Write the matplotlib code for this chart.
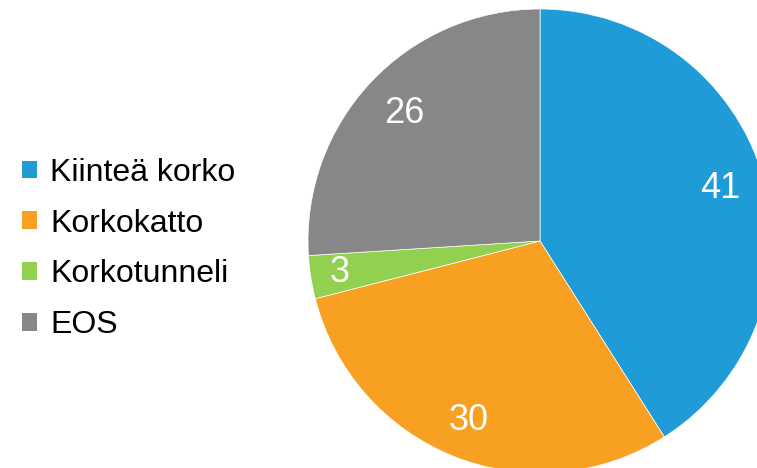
import matplotlib
matplotlib.use("Agg")
import matplotlib.pyplot as plt
from matplotlib.patches import Patch
import numpy as np

plt.rcParams['font.family'] = ['Liberation Sans', 'DejaVu Sans']

categories = ["Kiinteä korko", "Korkokatto", "Korkotunneli", "EOS"]
values = [41, 30, 3, 26]
colors = ["#1F9BD7", "#F7A021", "#92D050", "#878787"]
label_radius = [0.81, 0.83, 0.875, 0.80]

W, H = 757, 468
fig = plt.figure(figsize=(W / 100, H / 100), dpi=100)
ax = fig.add_axes([0, 0, 1, 1])

cx, cy, r = 540, 227, 232
wedges, _ = ax.pie(values, colors=colors, startangle=90, counterclock=False,
                   center=(cx, cy), radius=r, frame=True,
                   wedgeprops=dict(edgecolor="white", linewidth=0.5))

for w, v, f in zip(wedges, values, label_radius):
    ang = np.deg2rad((w.theta1 + w.theta2) / 2)
    ax.text(cx + f * r * np.cos(ang), cy + f * r * np.sin(ang), str(v),
            ha="center", va="center", color="white", fontsize=26)

ax.set_xlim(0, W)
ax.set_ylim(0, H)
ax.set_aspect("equal")
ax.axis("off")

handles = [Patch(facecolor=c, edgecolor="none") for c in colors]
ax.legend(handles, categories, loc="center left", bbox_to_anchor=(9 / W, 1 - 249 / H),
          frameon=False, fontsize=23, handlelength=0.48, handleheight=0.48,
          handletextpad=0.4, labelspacing=0.65, borderaxespad=0)

fig.savefig("out.png", dpi=100)
